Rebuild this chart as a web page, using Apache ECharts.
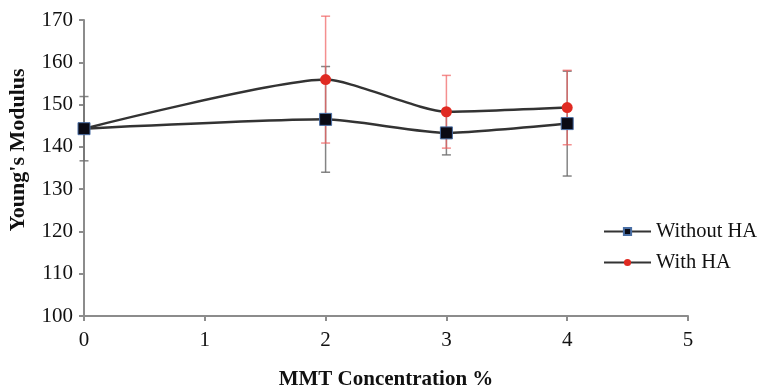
<!DOCTYPE html>
<html>
<head>
<meta charset="utf-8">
<script src="https://cdn.jsdelivr.net/npm/echarts@6/dist/echarts.min.js"></script>
<style>
	html,body{margin:0;padding:0;background:#fff;}
	#main{width:758px;height:388px;}
</style>
</head>
<body>
<div id="main"></div>
<script type="text/javascript">
	// MMT concentration (%)
	var conc = [0, 2, 3, 4];
	// Young's modulus
	var without_ha = [144.3, 146.5, 143.3, 145.5];
	var without_ha_err = [7.6, 12.5, 5.2, 12.4];
	var with_ha = [144.3, 155.9, 148.3, 149.3];
	var with_ha_err = [0, 15, 8.6, 8.8];

	var font = '"Liberation Serif", "Times New Roman", serif';

	function pairs(xs, ys){
		return xs.map(function(x, i){ return [x, ys[i]]; });
	}
	function errData(xs, ys, es){
		return xs.map(function(x, i){ return [x, ys[i] - es[i], ys[i] + es[i]]; });
	}

	//误差线
	function errRender(color){
		return function(params, api){
			var x = api.value(0);
			var lo = api.coord([x, api.value(1)]);
			var hi = api.coord([x, api.value(2)]);
			if (hi[1] === lo[1]) return;
			var w = 4.5;
			var st = {stroke: color, lineWidth: 1.5};
			return {type: 'group', children: [
				{type: 'line', shape: {x1: lo[0], y1: lo[1], x2: hi[0], y2: hi[1]}, style: st},
				{type: 'line', shape: {x1: lo[0] - w, y1: lo[1], x2: lo[0] + w, y2: lo[1]}, style: st},
				{type: 'line', shape: {x1: hi[0] - w, y1: hi[1], x2: hi[0] + w, y2: hi[1]}, style: st}
			]};
		};
	}

	var myChart = echarts.init(document.getElementById('main'));
	var option = {
		backgroundColor: '#fff',
		animation: false,
		grid: {left: 84, right: 70, top: 20, bottom: 72, outerBoundsMode: 'none', containLabel: false},
		legend: {
			orient: 'vertical',
			left: 603,
			top: 221,
			padding: 0,
			itemGap: 10,
			itemWidth: 47,
			itemHeight: 9,
			textStyle: {fontFamily: font, fontSize: 20.5, color: '#111'},
			data: ['Without HA', 'With HA']
		},
		xAxis: {
			type: 'value',
			min: 0, max: 5, interval: 1,
			name: 'MMT Concentration %',
			nameLocation: 'middle',
			nameGap: 53,
			nameTextStyle: {fontFamily: font, fontSize: 21, fontWeight: 'bold', color: '#111'},
			axisLine: {lineStyle: {color: '#8c8c8c', width: 2}},
			axisTick: {show: true, length: 5, lineStyle: {color: '#8c8c8c', width: 2}},
			axisLabel: {fontFamily: font, fontSize: 21, color: '#111', margin: 14},
			splitLine: {show: false}
		},
		yAxis: {
			type: 'value',
			min: 100, max: 170, interval: 10,
			name: "Young's Modulus",
			nameLocation: 'middle',
			nameGap: 55,
			nameTextStyle: {fontFamily: font, fontSize: 22, fontWeight: 'bold', color: '#111', padding: [0, 0, 0, 36]},
			axisLine: {show: true, lineStyle: {color: '#8c8c8c', width: 2}},
			axisTick: {show: true, length: 5, lineStyle: {color: '#8c8c8c', width: 2}},
			axisLabel: {fontFamily: font, fontSize: 21, color: '#111', margin: 11},
			splitLine: {show: false}
		},
		series: [
			{
				name: 'With HA err',
				type: 'custom',
				renderItem: errRender('rgba(240,95,95,0.7)'),
				data: errData(conc, with_ha, with_ha_err),
				encode: {x: 0, y: [1, 2]},
				z: 2
			},
			{
				name: 'Without HA err',
				type: 'custom',
				renderItem: errRender('rgba(110,110,110,0.85)'),
				data: errData(conc, without_ha, without_ha_err),
				encode: {x: 0, y: [1, 2]},
				z: 1
			},
			{
				name: 'With HA',
				type: 'line',
				smooth: 0.2,
				data: pairs(conc, with_ha),
				symbol: 'circle',
				symbolSize: 11,
				lineStyle: {color: '#333', width: 2.5},
				itemStyle: {color: '#e02a22', borderColor: '#e02a22', borderWidth: 0},
				z: 3
			},
			{
				name: 'Without HA',
				type: 'line',
				smooth: 0.2,
				data: pairs(conc, without_ha),
				symbol: 'rect',
				symbolSize: 12,
				lineStyle: {color: '#333', width: 2.5},
				itemStyle: {color: '#0a0a14', borderColor: '#4a6fa5', borderWidth: 1},
				z: 4
			}
		]
	};
	myChart.setOption(option);
</script>
</body>
</html>
